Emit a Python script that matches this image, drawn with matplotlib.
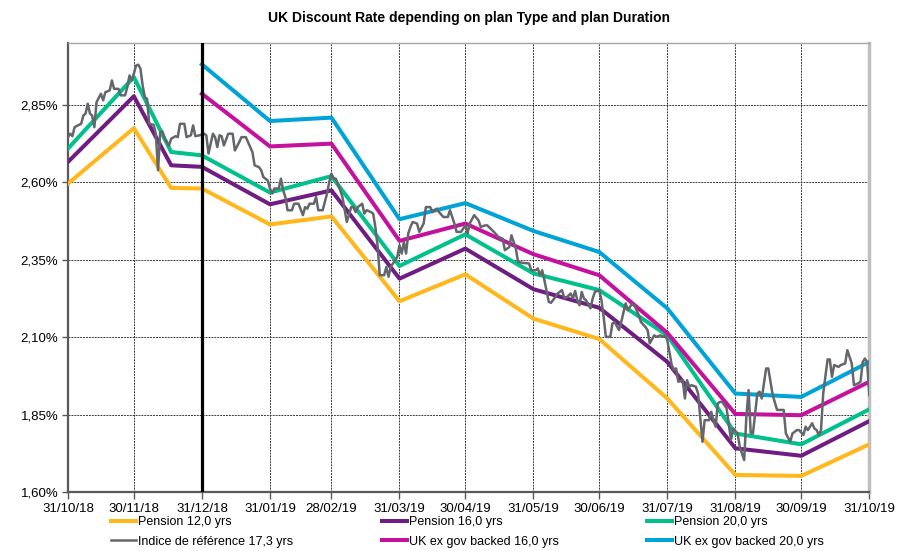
import matplotlib
matplotlib.use('Agg')
import matplotlib.pyplot as plt
import matplotlib.dates as mdates
from matplotlib.ticker import FuncFormatter
import pandas as pd

plt.rcParams['font.family'] = ['Liberation Sans', 'DejaVu Sans']

# Dates de calcul des courbes (fin de mois + un point mi-décembre)
curve_dates = ['2018-10-31', '2018-11-30', '2018-12-17', '2018-12-31', '2019-01-31',
               '2019-02-28', '2019-03-31', '2019-04-30', '2019-05-31', '2019-06-30',
               '2019-07-31', '2019-08-31', '2019-09-30', '2019-10-31']
pension_12 = [2.596, 2.775, 2.582, 2.580, 2.464, 2.490, 2.216, 2.303, 2.160, 2.094,
              1.902, 1.655, 1.652, 1.754]
pension_16 = [2.666, 2.878, 2.655, 2.650, 2.529, 2.574, 2.289, 2.386, 2.255, 2.195,
              2.020, 1.741, 1.717, 1.829]
pension_20 = [2.709, 2.940, 2.698, 2.687, 2.567, 2.620, 2.330, 2.432, 2.306, 2.252,
              2.106, 1.789, 1.754, 1.867]

# Courbes UK ex gov backed : à partir du 31/12/18
uk_dates = ['2018-12-31', '2019-01-31', '2019-02-28', '2019-03-31', '2019-04-30',
            '2019-05-31', '2019-06-30', '2019-07-31', '2019-08-31', '2019-09-30',
            '2019-10-31']
uk_16 = [2.886, 2.716, 2.725, 2.411, 2.467, 2.368, 2.300, 2.114, 1.852, 1.848, 1.956]
uk_20 = [2.981, 2.798, 2.809, 2.481, 2.533, 2.443, 2.375, 2.193, 1.918, 1.907, 2.020]

# Indice de référence : jours depuis le 31/10/18 et valeur (%)
ref_start = '2018-10-31'
ref_day = [0, 1, 2, 3, 4, 6, 7, 8, 9, 10,
           11, 12, 13, 15, 16, 17, 19, 20, 21, 23,
           24, 26, 27, 28, 29, 30, 31, 32, 33, 34,
           35, 36, 37, 39, 40, 41, 42, 43, 44, 46,
           47, 49, 50, 51, 53, 54, 56, 57, 58, 60,
           62, 63, 64, 66, 67, 68, 69, 70, 71, 73,
           75, 76, 78, 79, 81, 84, 85, 87, 88, 89,
           91, 92, 93, 94, 96, 97, 98, 99, 100, 102,
           103, 105, 107, 108, 109, 110, 112, 113, 114, 116,
           118, 119, 120, 121, 122, 124, 125, 127, 129, 130,
           131, 132, 134, 135, 136, 138, 139, 140, 141, 142,
           144, 145, 146, 147, 149, 150, 151, 152, 153, 154,
           155, 156, 157, 159, 160, 162, 163, 165, 166, 168,
           169, 171, 173, 174, 176, 177, 179, 181, 182, 183,
           185, 187, 188, 190, 191, 194, 196, 198, 199, 201,
           202, 204, 205, 207, 210, 211, 213, 214, 215, 216,
           217, 219, 220, 222, 223, 225, 226, 227, 229, 230,
           231, 232, 233, 234, 235, 236, 238, 239, 240, 242,
           243, 244, 245, 247, 248, 249, 251, 252, 254, 255,
           257, 258, 260, 261, 263, 264, 265, 267, 268, 270,
           271, 272, 273, 275, 276, 277, 278, 280, 281, 282,
           283, 284, 286, 287, 289, 290, 292, 293, 294, 295,
           296, 297, 298, 300, 302, 303, 305, 306, 308, 309,
           310, 311, 312, 314, 315, 316, 318, 319, 321, 323,
           324, 326, 327, 329, 330, 332, 333, 335, 336, 337,
           339, 340, 341, 342, 343, 344, 346, 347, 348, 349,
           351, 352, 354, 355, 357, 358, 360, 361, 362, 363,
           364, 365]
ref_val = [2.746, 2.757, 2.749, 2.778, 2.782, 2.789, 2.816, 2.822, 2.854, 2.822,
           2.816, 2.778, 2.859, 2.886, 2.865, 2.891, 2.897, 2.929, 2.902, 2.902,
           2.881, 2.881, 2.907, 2.945, 2.929, 2.951, 2.977, 2.980, 2.967, 2.913,
           2.875, 2.870, 2.789, 2.786, 2.757, 2.639, 2.762, 2.765, 2.741, 2.719,
           2.741, 2.749, 2.746, 2.789, 2.789, 2.746, 2.752, 2.784, 2.749, 2.752,
           2.757, 2.752, 2.693, 2.757, 2.746, 2.714, 2.752, 2.749, 2.719, 2.757,
           2.757, 2.703, 2.730, 2.746, 2.746, 2.698, 2.655, 2.649, 2.639, 2.617,
           2.606, 2.580, 2.564, 2.580, 2.580, 2.612, 2.574, 2.553, 2.510, 2.510,
           2.531, 2.531, 2.494, 2.520, 2.515, 2.531, 2.531, 2.553, 2.510, 2.510,
           2.564, 2.601, 2.628, 2.612, 2.612, 2.574, 2.553, 2.472, 2.520, 2.520,
           2.504, 2.520, 2.531, 2.499, 2.510, 2.504, 2.499, 2.456, 2.397, 2.300,
           2.300, 2.327, 2.295, 2.327, 2.348, 2.359, 2.397, 2.370, 2.407, 2.370,
           2.435, 2.456, 2.472, 2.467, 2.440, 2.467, 2.520, 2.520, 2.504, 2.515,
           2.504, 2.488, 2.488, 2.510, 2.467, 2.440, 2.440, 2.461, 2.435, 2.467,
           2.494, 2.477, 2.456, 2.461, 2.461, 2.440, 2.424, 2.418, 2.381, 2.391,
           2.429, 2.386, 2.343, 2.340, 2.338, 2.316, 2.316, 2.322, 2.300, 2.316,
           2.284, 2.214, 2.211, 2.230, 2.241, 2.252, 2.228, 2.228, 2.241, 2.225,
           2.249, 2.219, 2.203, 2.246, 2.225, 2.219, 2.193, 2.225, 2.246, 2.252,
           2.219, 2.165, 2.101, 2.101, 2.144, 2.149, 2.123, 2.149, 2.209, 2.187,
           2.209, 2.203, 2.171, 2.149, 2.133, 2.123, 2.080, 2.106, 2.101, 2.106,
           2.101, 2.106, 2.090, 2.010, 1.994, 1.999, 1.956, 1.961, 1.902, 1.961,
           1.940, 1.945, 1.940, 1.918, 1.762, 1.832, 1.832, 1.859, 1.832, 1.811,
           1.886, 1.891, 1.891, 1.870, 1.768, 1.805, 1.789, 1.746, 1.703, 1.843,
           1.929, 1.789, 1.789, 1.918, 1.924, 1.902, 1.999, 1.999, 1.913, 1.865,
           1.865, 1.865, 1.789, 1.762, 1.789, 1.800, 1.800, 1.784, 1.811, 1.800,
           1.822, 1.805, 1.800, 1.784, 1.800, 1.918, 2.028, 2.028, 1.972, 2.010,
           2.004, 2.010, 2.015, 2.058, 2.015, 1.945, 1.951, 1.956, 2.020, 2.031,
           2.020, 1.913]

tick_dates = ['2018-10-31', '2018-11-30', '2018-12-31', '2019-01-31', '2019-02-28',
              '2019-03-31', '2019-04-30', '2019-05-31', '2019-06-30', '2019-07-31',
              '2019-08-31', '2019-09-30', '2019-10-31']
y_ticks = [1.60, 1.85, 2.10, 2.35, 2.60, 2.85]
split_date = '2018-12-31'

COLORS = {
    'p12': '#FFB71B',
    'p16': '#6F1D83',
    'p20': '#00C08B',
    'ref': '#63666A',
    'uk16': '#C4119E',
    'uk20': '#00A3D8',
}

cd = pd.to_datetime(curve_dates)
ud = pd.to_datetime(uk_dates)
rd = pd.Timestamp(ref_start) + pd.to_timedelta(ref_day, unit='D')
td = pd.to_datetime(tick_dates)

fig = plt.figure(figsize=(9, 5.51), dpi=100)
ax = fig.add_axes([68 / 900, 1 - 492 / 551, (869.3 - 68) / 900, (492 - 43) / 551])

lw = 2.9
h_p12, = ax.plot(cd, pension_12, color=COLORS['p12'], lw=lw, label='Pension 12,0 yrs', zorder=3)
h_p16, = ax.plot(cd, pension_16, color=COLORS['p16'], lw=lw, label='Pension 16,0 yrs', zorder=3)
h_p20, = ax.plot(cd, pension_20, color=COLORS['p20'], lw=lw, label='Pension 20,0 yrs', zorder=3)
h_ref, = ax.plot(rd, ref_val, color=COLORS['ref'], lw=1.8,
                 label='Indice de référence 17,3 yrs', zorder=4)
h_uk16, = ax.plot(ud, uk_16, color=COLORS['uk16'], lw=lw, label='UK ex gov backed 16,0 yrs', zorder=3)
h_uk20, = ax.plot(ud, uk_20, color=COLORS['uk20'], lw=lw, label='UK ex gov backed 20,0 yrs', zorder=3)

# Ligne verticale noire au 31/12/18
ax.axvline(pd.Timestamp(split_date), color='black', lw=2.3, zorder=5)

ax.set_xlim(td[0], td[-1])
ax.set_ylim(1.60, 3.05)
ax.set_xticks(td)
ax.xaxis.set_major_formatter(mdates.DateFormatter('%d/%m/%y'))
ax.set_yticks(y_ticks)
ax.yaxis.set_major_formatter(FuncFormatter(lambda v, p: ('%.2f%%' % v).replace('.', ',')))

ax.grid(True, color='#3a3a3a', linestyle=(0, (2, 1)), lw=0.7, zorder=1)
ax.set_axisbelow(True)
ax.tick_params(axis='x', direction='out', length=5, width=1, color='#595959',
               labelsize=9.5, pad=3)
ax.tick_params(axis='y', direction='out', length=4, width=1, color='#595959',
               labelsize=9.5, pad=3)

for side in ['left', 'bottom']:
    ax.spines[side].set_color('#595959')
    ax.spines[side].set_linewidth(1.6)
ax.spines['top'].set_color('#A6A6A6')
ax.spines['top'].set_linewidth(1.0)
ax.spines['right'].set_color('#BFBFBF')
ax.spines['right'].set_linewidth(2.5)

ax.set_title('UK Discount Rate depending on plan Type and plan Duration',
             fontsize=10, fontweight='bold', pad=15)

handles = [h_p12, h_ref, h_p16, h_uk16, h_p20, h_uk20]
fig.legend(handles=handles, labels=[h.get_label() for h in handles],
           loc='upper left', bbox_to_anchor=(111 / 900, 1 - 516 / 551), ncol=3,
           frameon=False, fontsize=9, handlelength=2.0, handletextpad=0.15,
           columnspacing=7.1, labelspacing=0.62, borderpad=0, borderaxespad=0)

fig.savefig('out.png', dpi=100)
